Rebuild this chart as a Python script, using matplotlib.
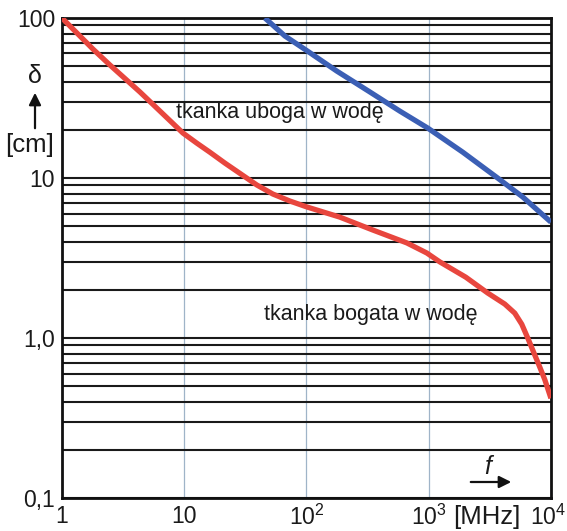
import matplotlib
matplotlib.use("Agg")
import matplotlib.pyplot as plt
import matplotlib.transforms as mtransforms
from matplotlib.patches import FancyArrowPatch
from matplotlib.ticker import LogLocator, NullFormatter, FixedLocator, FixedFormatter

plt.rcParams['font.family'] = ['Liberation Sans', 'DejaVu Sans']
plt.rcParams['mathtext.fontset'] = 'custom'
plt.rcParams['mathtext.rm'] = 'Liberation Sans'
plt.rcParams['mathtext.it'] = 'Liberation Sans:italic'

# values
# tkanka bogata w wodę (red)
f_rich = [1, 1.79, 2.47, 4.34, 6.33, 9.76, 12.7, 16.2, 21.5, 28.5, 39.3, 53.1, 73.2, 101, 187,
          349, 662, 964, 1233, 2010, 3040, 4190, 5060, 5770, 6460, 7100, 8090, 8900, 10000]
d_rich = [100, 64.0, 50.8, 34.5, 26.2, 19.1, 16.5, 14.5, 12.4, 10.7, 9.04, 7.94, 7.18, 6.59, 5.70,
          4.73, 3.93, 3.40, 2.99, 2.40, 1.91, 1.63, 1.43, 1.22, 1.0, 0.84, 0.66, 0.55, 0.42]
# tkanka uboga w wodę (blue)
f_poor = [45.7, 66.6, 98.9, 177, 330, 580, 984, 1900, 3600, 5890, 10000]
d_poor = [100, 77.2, 63.1, 46.6, 34.5, 26.2, 20.5, 14.5, 10.1, 7.6, 5.3]

x_ticks = [1, 10, 100, 1000, 10000]
x_labels = ['1', '10', r'$10^2$', r'$10^3$', r'$10^4$']
y_ticks = [0.1, 1, 10, 100]
y_labels = ['0,1', '1,0', '10', '100']

fig = plt.figure(figsize=(5.67, 5.31), dpi=100)
ax = fig.add_axes([0.1093, 0.0621, 0.8624, 0.904])
ax.set_xscale('log')
ax.set_yscale('log')
ax.set_xlim(1, 10000)
ax.set_ylim(0.1, 100)

# grid: black horizontal lines at every log step, thin bluish verticals at decades
ax.yaxis.set_minor_locator(LogLocator(base=10, subs=range(2, 10)))
ax.yaxis.set_minor_formatter(NullFormatter())
ax.xaxis.set_minor_locator(FixedLocator([]))
ax.grid(True, which='both', axis='y', color='#1a1a1a', linewidth=1.5)
ax.grid(True, which='major', axis='x', color='#9fb4c8', linewidth=0.9)
ax.set_axisbelow(True)

ax.plot(f_rich, d_rich, color='#e8463e', linewidth=3.8, solid_joinstyle='round',
        solid_capstyle='butt', zorder=3)
ax.plot(f_poor, d_poor, color='#3b5fb5', linewidth=3.8, solid_joinstyle='round',
        solid_capstyle='butt', zorder=3)

ax.xaxis.set_major_locator(FixedLocator(x_ticks))
ax.xaxis.set_major_formatter(FixedFormatter(x_labels))
ax.yaxis.set_major_locator(FixedLocator(y_ticks))
ax.yaxis.set_major_formatter(FixedFormatter(y_labels))
ax.tick_params(which='both', length=0, labelsize=16.5, colors='#1a1a1a')
ax.tick_params(axis='x', pad=5)
ax.tick_params(axis='y', pad=5)

# keep the last x label inside the picture
last = ax.get_xticklabels()[-1]
last.set_transform(last.get_transform() + mtransforms.ScaledTranslation(-3 / 100, 0, fig.dpi_scale_trans))

for s in ax.spines.values():
    s.set_linewidth(2)
    s.set_color('#111111')

# curve labels
ax.text(0.446, 0.804, 'tkanka uboga w wodę', transform=ax.transAxes, fontsize=15.5,
        ha='center', va='center', color='#1a1a1a', zorder=4)
ax.text(0.631, 0.383, 'tkanka bogata w wodę', transform=ax.transAxes, fontsize=15.5,
        ha='center', va='center', color='#1a1a1a', zorder=4)

# y axis symbol with arrow
fig.text(35 / 567, 1 - 76 / 531, 'δ', fontsize=18, ha='center', va='center', color='#1a1a1a')
fig.add_artist(FancyArrowPatch(
    (35 / 567, 1 - 131 / 531), (35 / 567, 1 - 90 / 531), transform=fig.transFigure,
    arrowstyle='-|>', mutation_scale=18, linewidth=1.6, color='#111111'))
fig.text(30 / 567, 1 - 145 / 531, '[cm]', fontsize=18.5, ha='center', va='center', color='#1a1a1a')

# x axis symbol with arrow
fig.text(490 / 567, 1 - 467 / 531, '$\\mathit{f}$', fontsize=18, ha='center', va='center', color='#1a1a1a')
fig.add_artist(FancyArrowPatch(
    (468 / 567, 1 - 482 / 531), (514 / 567, 1 - 482 / 531), transform=fig.transFigure,
    arrowstyle='-|>', mutation_scale=18, linewidth=1.6, color='#111111'))
fig.text(487 / 567, 1 - 517 / 531, '[MHz]', fontsize=18.5, ha='center', va='center', color='#1a1a1a')

fig.savefig('out.png', dpi=100, facecolor='white')
